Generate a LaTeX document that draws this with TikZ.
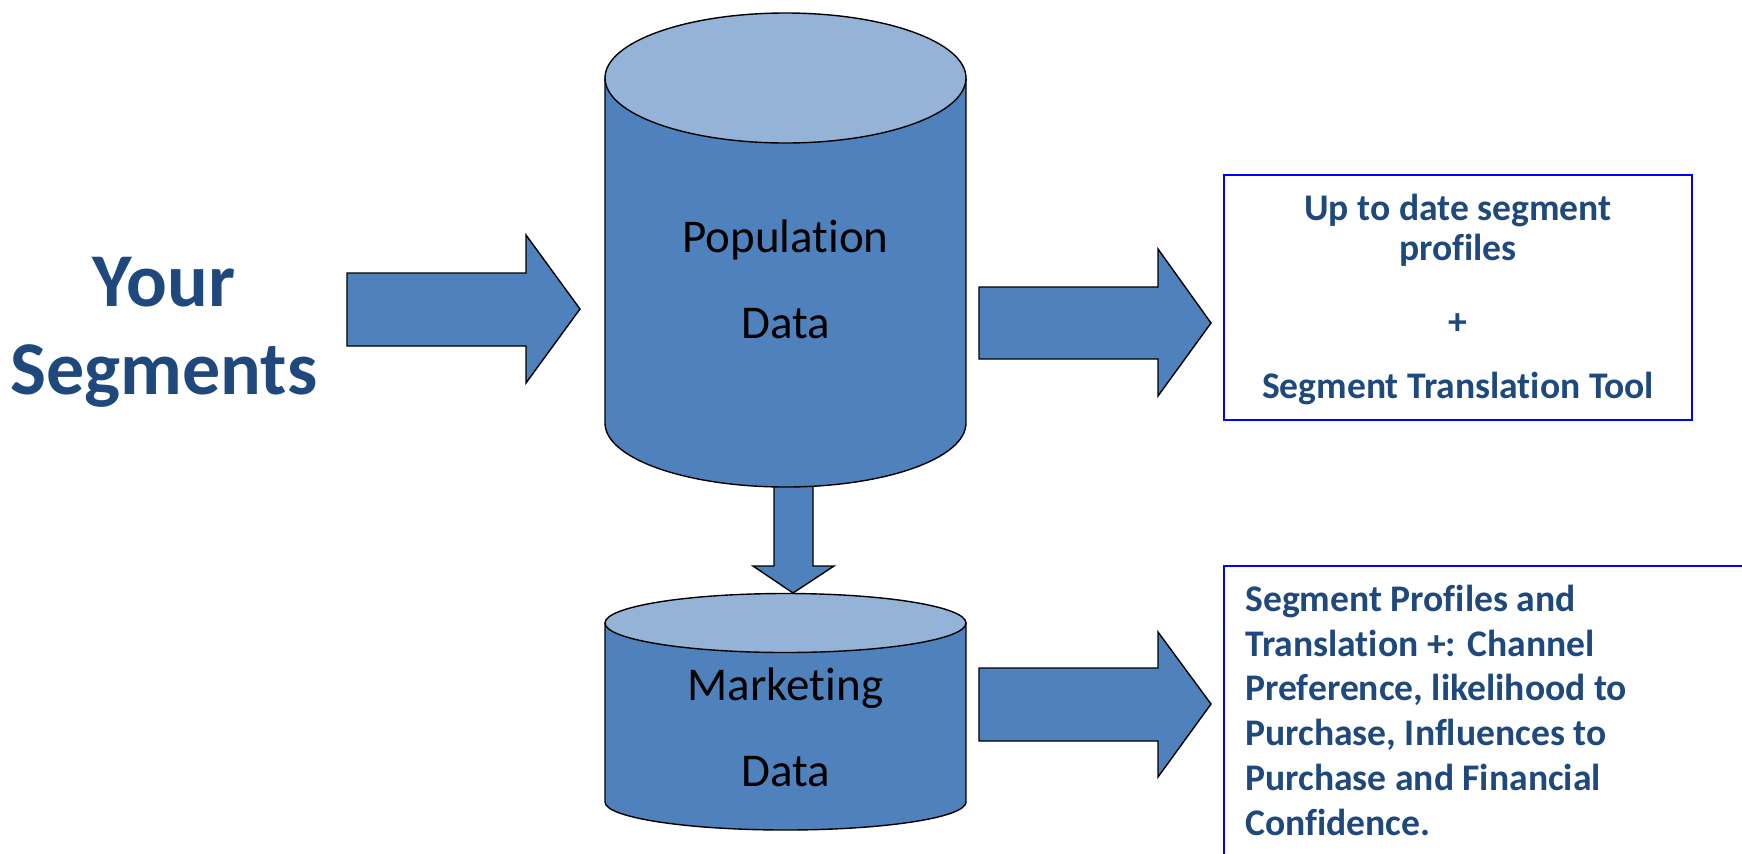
\documentclass[tikz,border=0pt]{standalone}
\usepackage{fontspec}
\setmainfont{Carlito}[Ligatures=NoCommon]
\definecolor{cylbody}{HTML}{4F81BD}
\definecolor{cyllight}{HTML}{95B3D7}
\definecolor{txtblue}{HTML}{1F497D}
\definecolor{boxblue}{HTML}{0000FF}
\tikzset{
  blockarrow/.style={fill=cylbody, draw=black, line width=0.7pt, line join=miter},
  cylside/.style={fill=cylbody, draw=black, line width=0.7pt},
  cyltopst/.style={fill=cyllight, draw=black, line width=0.7pt},
  outbox/.style={draw=boxblue, line width=1pt},
  cyltext/.style={anchor=base, inner sep=0pt, text=black, font=\fontsize{23.5}{28}\selectfont},
  bigtext/.style={anchor=base, inner sep=0pt, text=txtblue, font=\fontsize{38}{44}\selectfont\bfseries},
  boxtext/.style={inner sep=0pt, text=txtblue, font=\fontsize{18.8}{23}\selectfont\bfseries},
}
\begin{document}
\begin{tikzpicture}[x=0.5pt, y=-0.5pt]
\useasboundingbox (0,0) rectangle (1742,853);
\clip (0,0) rectangle (1742,853);

% left title
\node[bigtext] (your) at (164,306) {Your};
\node[bigtext] (segments) at (164,394) {Segments};

% block arrows
\path[blockarrow] (347,273) -- (526,273) -- (526,235) -- (580,309) -- (526,383) -- (526,346) -- (347,346) -- cycle;
\path[blockarrow] (979,287) -- (1158,287) -- (1158,249) -- (1211,323) -- (1158,396) -- (1158,359) -- (979,359) -- cycle;
\path[blockarrow] (979,668) -- (1158,668) -- (1158,632) -- (1211,704) -- (1158,777) -- (1158,741) -- (979,741) -- cycle;
\path[blockarrow] (774,470) -- (774,566) -- (753,566) -- (793,593) -- (834,566) -- (813,566) -- (813,470) -- cycle;

% population cylinder
\path[cylside] (605,78) -- (605,423) arc[start angle=180, end angle=360, x radius=90.25pt, y radius=32pt] -- (966,78) -- cycle;
\path[cyltopst] (785.5,78) ellipse [x radius=90.25pt, y radius=32.5pt];
\node[cyltext] (pop1) at (785.5,252) {Population};
\node[cyltext] (pop2) at (785.5,338) {Data};

% marketing cylinder
\path[cylside] (605,623) -- (605,802) arc[start angle=180, end angle=360, x radius=90.25pt, y radius=14pt] -- (966,623) -- cycle;
\path[cyltopst] (785.5,623) ellipse [x radius=90.25pt, y radius=14.75pt];
\node[cyltext] (mkt1) at (785.5,700) {Marketing};
\node[cyltext] (mkt2) at (785.5,786) {Data};

% output box 1
\draw[outbox] (1224,175) rectangle (1692,420);
\node[boxtext, anchor=base] (b1a) at (1458,220) {Up to date segment};
\node[boxtext, anchor=base] (b1b) at (1458,260) {profiles};
\node[boxtext, anchor=base] (b1c) at (1458,334) {+};
\node[boxtext, anchor=base] (b1d) at (1458,398) {Segment Translation Tool};

% output box 2
\draw[outbox] (1224,900) -- (1224,566) -- (1800,566);
\node[boxtext, anchor=base west] (b2a) at (1245,611) {Segment Profiles and};
\node[boxtext, anchor=base west] (b2b) at (1245,656) {Translation +: Channel};
\node[boxtext, anchor=base west] (b2c) at (1245,700) {Preference, likelihood to};
\node[boxtext, anchor=base west] (b2d) at (1245,745) {Purchase, Influences to};
\node[boxtext, anchor=base west] (b2e) at (1245,790) {Purchase and Financial};
\node[boxtext, anchor=base west] (b2f) at (1245,835) {Confidence.};
\end{tikzpicture}
\end{document}
